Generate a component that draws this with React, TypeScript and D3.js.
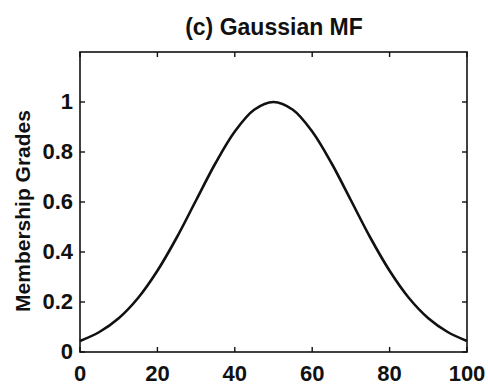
import React from "react";
import * as d3 from "d3";

const xValues = [0, 5, 10, 15, 20, 25, 30, 35, 40, 45, 50, 55, 60, 65, 70, 75, 80, 85, 90, 95, 100];
const membership = [0.044, 0.08, 0.135, 0.216, 0.325, 0.458, 0.607, 0.755, 0.882, 0.969, 1.0, 0.969, 0.882, 0.755, 0.607, 0.458, 0.325, 0.216, 0.135, 0.08, 0.044];
const xTicks = [0, 20, 40, 60, 80, 100];
const yTicks = [0, 0.2, 0.4, 0.6, 0.8, 1];
const title = "(c) Gaussian MF";
const yLabel = "Membership Grades";

export default function App() {
  const W = 488, H = 385;
  const left = 80, right = 467, top = 52, bottom = 352;
  const x = d3.scaleLinear().domain([0, 100]).range([left, right]);
  const y = d3.scaleLinear().domain([0, 1.2]).range([bottom, top]);
  const pts = xValues.map((v, i) => [v, membership[i]] as [number, number]);
  const line = d3.line<[number, number]>().x(d => x(d[0])).y(d => y(d[1])).curve(d3.curveCatmullRom);
  const font = "'Liberation Sans', Arial, Helvetica, sans-serif";
  const tl = 5;
  return (
    <svg width={W} height={H} style={{ position: "absolute", left: 0, top: 0, background: "#fff" }}>
      <rect x={0} y={0} width={W} height={H} fill="#fff" />
      <text x={274} y={35} textAnchor="middle" fontFamily={font} fontWeight="bold" fontSize={23} fill="#111">{title}</text>
      <rect x={left} y={top} width={right - left} height={bottom - top} fill="none" stroke="#111" strokeWidth={1.6} />
      {xTicks.map(t => (
        <g key={"x" + t}>
          <line x1={x(t)} x2={x(t)} y1={bottom} y2={bottom - tl} stroke="#111" strokeWidth={1.4} />
          <line x1={x(t)} x2={x(t)} y1={top} y2={top + tl} stroke="#111" strokeWidth={1.4} />
          <text x={x(t)} y={381} textAnchor="middle" fontFamily={font} fontWeight="bold" fontSize={22} fill="#111">{t}</text>
        </g>
      ))}
      {yTicks.map(t => (
        <g key={"y" + t}>
          <line x1={left} x2={left + tl} y1={y(t)} y2={y(t)} stroke="#111" strokeWidth={1.4} />
          <line x1={right} x2={right - tl} y1={y(t)} y2={y(t)} stroke="#111" strokeWidth={1.4} />
          <text x={73} y={y(t) + 7} textAnchor="end" fontFamily={font} fontWeight="bold" fontSize={22} fill="#111">{t}</text>
        </g>
      ))}
      <text transform={`translate(30, 211) rotate(-90)`} textAnchor="middle" fontFamily={font} fontWeight="bold" fontSize={21} fill="#111">{yLabel}</text>
      <path d={line(pts) || ""} fill="none" stroke="#111" strokeWidth={2.6} />
    </svg>
  );
}
